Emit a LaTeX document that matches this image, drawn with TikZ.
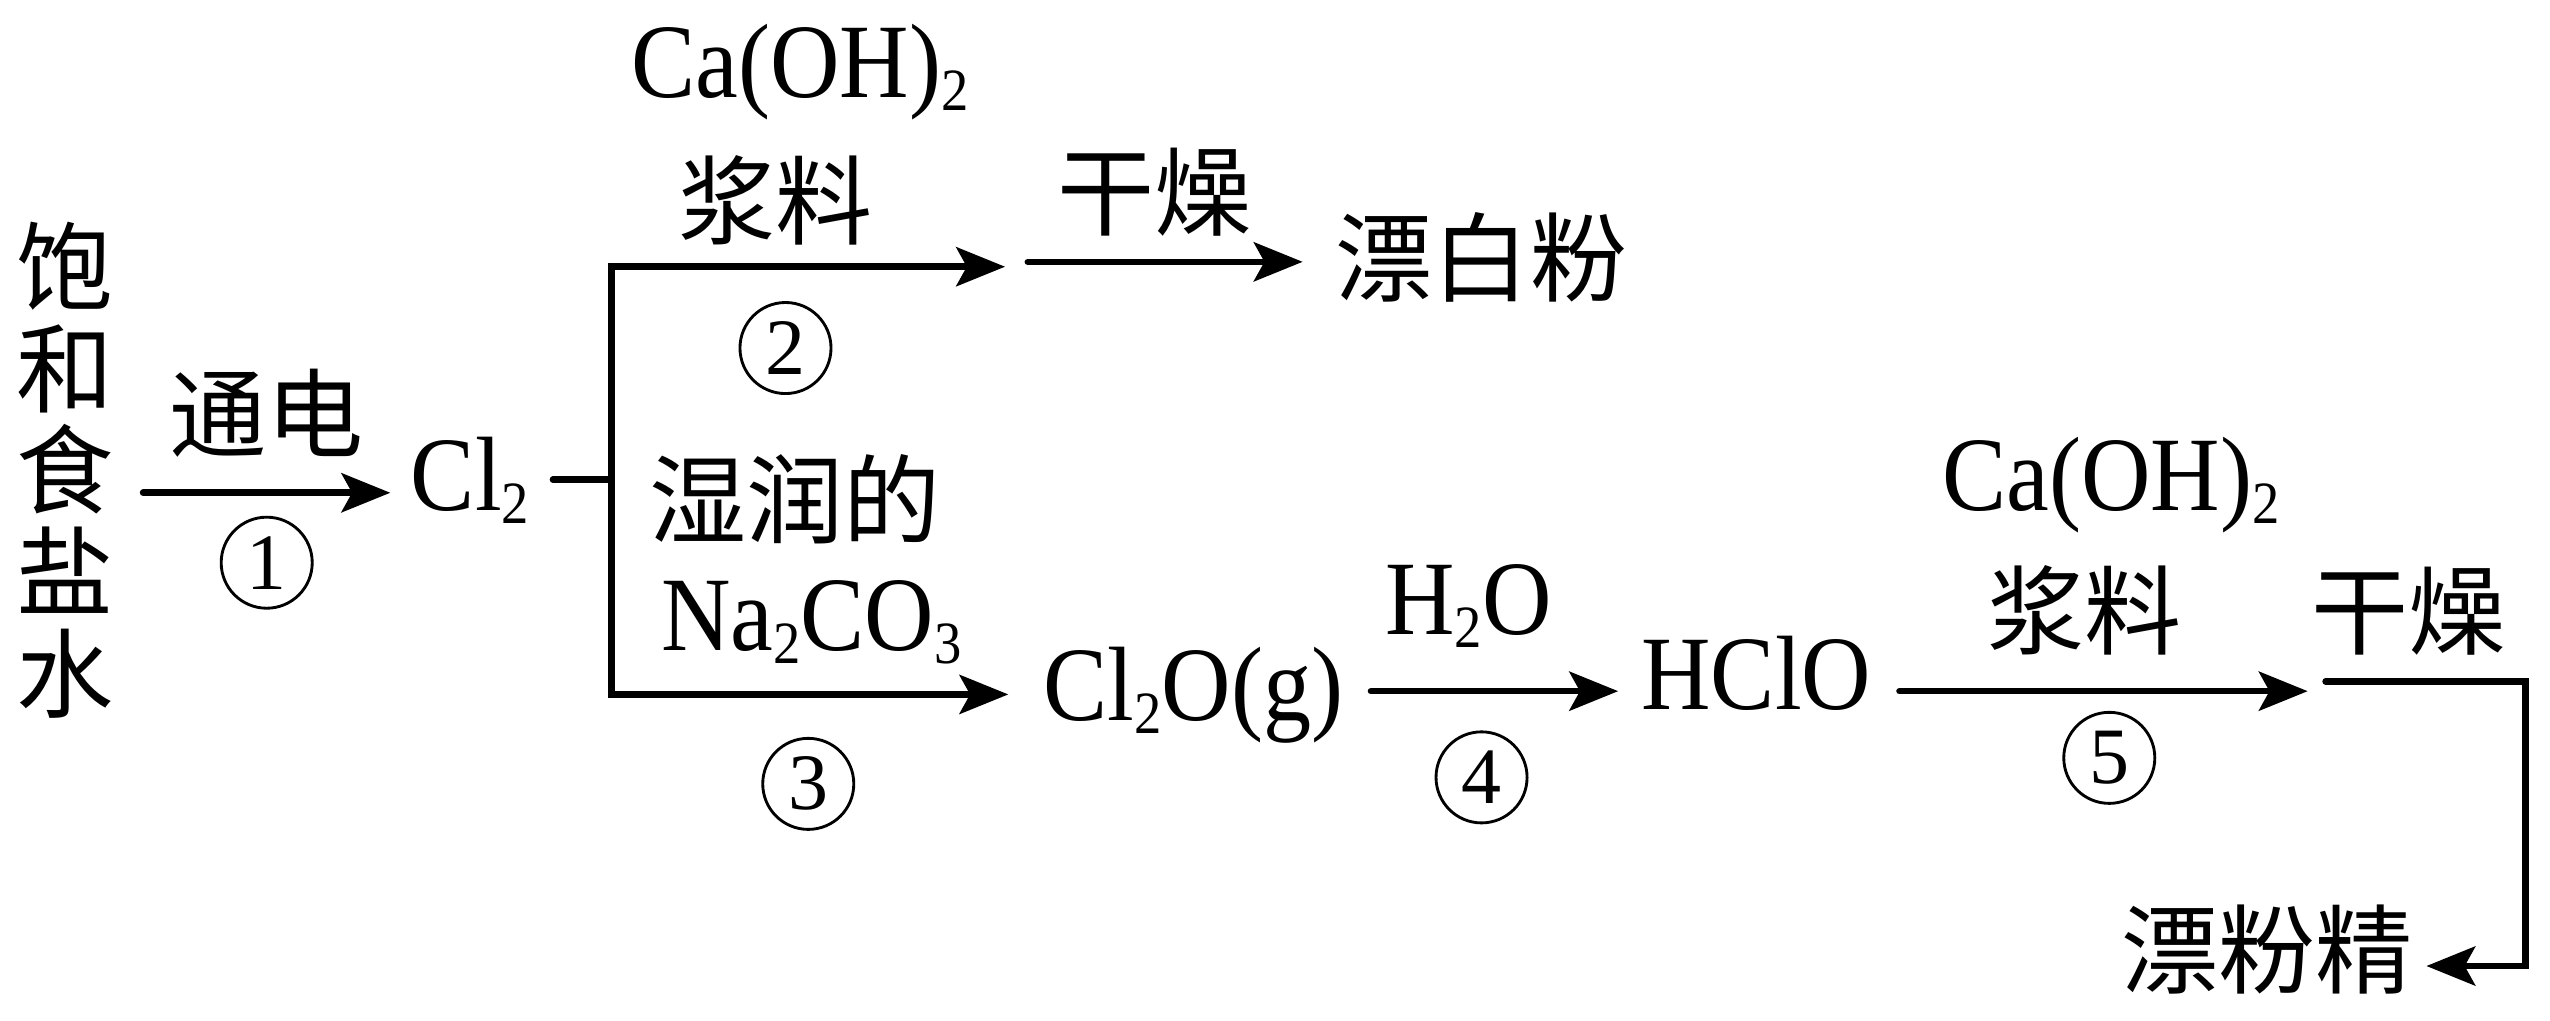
\documentclass[tikz,border=0pt]{standalone}
\usepackage{fontspec}
\setmainfont{Liberation Serif}[FakeStretch=0.91]
\newfontfamily\digitfont{Liberation Serif}
\newfontfamily\cjk{Noto Sans CJK SC}
\usetikzlibrary{arrows.meta}
\newcommand\subs[1]{\raisebox{-4.5pt}{\fontsize{21}{21}\selectfont #1}}
\tikzset{
  every node/.style={inner sep=0pt, outer sep=0pt},
  cn/.style={font=\cjk\fontsize{34}{35.57}\selectfont, align=center},
  la/.style={font=\fontsize{37}{38}\selectfont},
  num/.style={circle, draw, line width=1pt, minimum size=1.12cm, font=\digitfont\fontsize{28}{28}\selectfont},
  arr/.style={draw, line width=2.3pt, line cap=round, -{Stealth[length=0.6cm,width=0.48cm,inset=0.13cm]}},
  ln/.style={draw, line width=2.3pt, line cap=round}
}
\begin{document}
\begin{tikzpicture}[x=0.02cm, y=-0.02cm]
\useasboundingbox (0,0) rectangle (1568,627.2);
% nodes
\node[cn] (salt) at (40,289) {饱\\和\\食\\盐\\水};
\node[cn] (td) at (164,254) {通电};
\node[num] (n1) at (164,346) {1};
\node[la, anchor=base] (cl2) at (289,314) {Cl\subs{2}};
\node[la, anchor=base] (caoh1) at (492,60) {Ca(OH)\subs{2}};
\node[cn] (jl1) at (477,123) {浆料};
\node[num] (n2) at (483,214) {2};
\node[cn] (sr) at (489,307) {湿润的};
\node[la, anchor=base] (na) at (499,400) {Na\subs{2}CO\subs{3}};
\node[num] (n3) at (497,482) {3};
\node[cn] (gz1) at (710,118) {干燥};
\node[cn] (pbf) at (911,158) {漂白粉};
\node[la, anchor=base] (cl2o) at (734,443) {Cl\subs{2}O(g)};
\node[la, anchor=base] (h2o) at (903,390) {H\subs{2}O};
\node[num] (n4) at (911,478) {4};
\node[la, anchor=base] (hclo) at (1080,436) {HClO};
\node[la, anchor=base] (caoh2) at (1298,314) {Ca(OH)\subs{2}};
\node[cn] (jl2) at (1282,375) {浆料};
\node[num] (n5) at (1297,466) {5};
\node[cn] (gz2) at (1481,376) {干燥};
\node[cn] (pfj) at (1394,584) {漂粉精};
% connector end points
\coordinate (a1s) at (88,303);
\coordinate (a1e) at (240,303);
\coordinate (stubs) at (340,295);
\coordinate (br) at (376,295);
\coordinate (brt) at (376,164);
\coordinate (brb) at (376,427);
\coordinate (a2e) at (618,164);
\coordinate (a3e) at (620,427);
\coordinate (gzs) at (632,161);
\coordinate (gze) at (801,161);
\coordinate (a4s) at (843,425);
\coordinate (a4e) at (995,425);
\coordinate (a5s) at (1168,425);
\coordinate (a5e) at (1419,425);
\coordinate (fs) at (1430,419);
\coordinate (fc1) at (1553,419);
\coordinate (fc2) at (1553,594);
\coordinate (fe) at (1492,594);
% connectors
\draw[arr] (a1s) -- (a1e);
\draw[ln] (stubs) -- (br);
\draw[arr] (br) -- (brt) -- (a2e);
\draw[arr] (br) -- (brb) -- (a3e);
\draw[arr] (gzs) -- (gze);
\draw[arr] (a4s) -- (a4e);
\draw[arr] (a5s) -- (a5e);
\draw[arr] (fs) -- (fc1) -- (fc2) -- (fe);
\end{tikzpicture}
\end{document}
